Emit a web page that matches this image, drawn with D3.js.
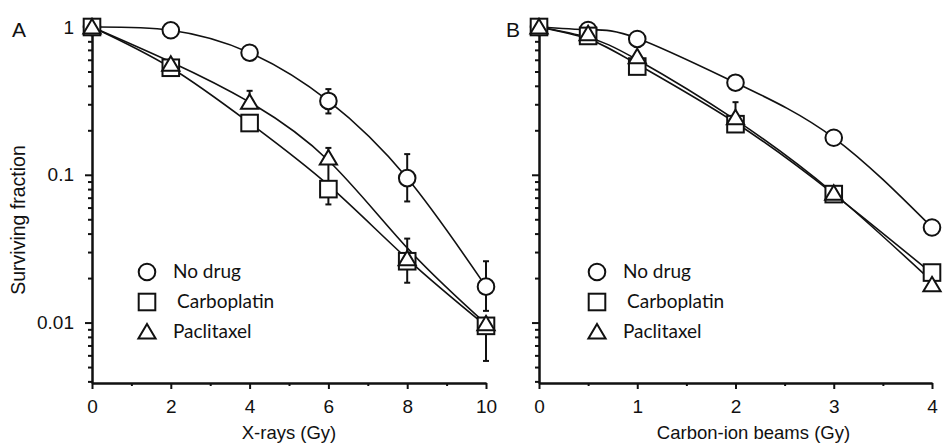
<!DOCTYPE html>
<html>
<head>
<meta charset="utf-8">
<script src="https://cdn.jsdelivr.net/npm/d3@7"></script>
<style>
  body { margin: 0; background: #fff; }
  svg text { font-family: "Liberation Sans", Arial, sans-serif; fill: #111; }
  .legend text { font-family: Lato, "Open Sans", sans-serif; }
</style>
</head>
<body>
<div id="chart"></div>
<script>
// doses
var xrayDose = [0, 2, 4, 6, 8, 10];
var carbonDose = [0, 0.5, 1, 2, 3, 4];

// panel A, X-rays: measured surviving fraction
var xrayNoDrug = [1, 0.95, 0.67, 0.316, 0.095, 0.0175];
var xrayCarbo = [1, 0.53, 0.224, 0.080, 0.026, 0.0095];
var xrayPacli = [1, 0.56, 0.31, 0.13, 0.027, 0.0098];
// error bar ends (null = hidden in marker)
var xrayNoDrugHi = [null, null, null, 0.38, 0.138, 0.026];
var xrayNoDrugLo = [null, null, null, 0.26, 0.066, 0.012];
var xrayCarboHi = [null, null, null, null, null, null];
var xrayCarboLo = [null, null, 0.20, 0.063, 0.0186, 0.0055];
var xrayPacliHi = [null, null, 0.37, 0.152, 0.037, null];
var xrayPacliLo = [null, null, null, 0.09, null, null];
// fitted curve at each dose
var xrayNoDrugFit = [1, 0.95, 0.67, 0.316, 0.095, 0.0175];
var xrayCarboFit = [1, 0.53, 0.224, 0.085, 0.027, 0.0095];
var xrayPacliFit = [1, 0.58, 0.31, 0.125, 0.032, 0.0098];

// panel B, carbon-ion beams
var carbonNoDrug = [1, 0.955, 0.83, 0.42, 0.178, 0.044];
var carbonCarbo = [1, 0.87, 0.54, 0.22, 0.074, 0.0218];
var carbonPacli = [1, 0.9, 0.63, 0.243, 0.075, 0.018];
var carbonPacliHi = [null, null, null, 0.31, null, null];
var carbonNoDrugFit = [1, 0.96, 0.84, 0.42, 0.178, 0.044];
var carbonCarboFit = [1, 0.83, 0.56, 0.225, 0.074, 0.0215];
var carbonPacliFit = [1, 0.85, 0.60, 0.235, 0.075, 0.019];

var legendLabels = ["No drug", "Carboplatin", "Paclitaxel"];
var yMajor = [1, 0.1, 0.01];
var yTickLabels = ["1", "0.1", "0.01"];

function program() {
    var width = 943, height = 445;

    var svg = d3.select("#chart")
        .append("svg")
        .attr("width", width)
        .attr("height", height);

    var y = d3.scaleLog().domain([0.0039, 1]).range([383, 27]);

    var yMinor = [];
    [0.001, 0.01, 0.1].forEach(function(dec) {
        for (var k = 2; k <= 9; k++) {
            var v = k * dec;
            if (v >= 0.0039 && v < 1) yMinor.push(v);
        }
    });

    function makeSeries(dose, vals, hi, lo) {
        return dose.map(function(d, i) {
            return { dose: d, sf: vals[i], hi: hi ? hi[i] : null, lo: lo ? lo[i] : null };
        });
    }

    var panels = [
        {
            x: d3.scaleLinear().domain([0, 10]).range([92, 486]),
            major: [0, 2, 4, 6, 8, 10],
            minor: [1, 3, 5, 7, 9],
            title: "X-rays (Gy)", titleShift: 0,
            letter: "A", letterX: 12,
            yLabels: true,
            legendX: 147,
            series: [
                makeSeries(xrayDose, xrayNoDrug, xrayNoDrugHi, xrayNoDrugLo),
                makeSeries(xrayDose, xrayCarbo, xrayCarboHi, xrayCarboLo),
                makeSeries(xrayDose, xrayPacli, xrayPacliHi, xrayPacliLo)
            ],
            fits: [
                makeSeries(xrayDose, xrayNoDrugFit),
                makeSeries(xrayDose, xrayCarboFit),
                makeSeries(xrayDose, xrayPacliFit)
            ]
        },
        {
            x: d3.scaleLinear().domain([0, 4]).range([539, 932]),
            major: [0, 1, 2, 3, 4],
            minor: [0.5, 1.5, 2.5, 3.5],
            title: "Carbon-ion beams (Gy)", titleShift: 18,
            letter: "B", letterX: 506,
            yLabels: false,
            legendX: 597,
            series: [
                makeSeries(carbonDose, carbonNoDrug),
                makeSeries(carbonDose, carbonCarbo),
                makeSeries(carbonDose, carbonPacli, carbonPacliHi, null)
            ],
            fits: [
                makeSeries(carbonDose, carbonNoDrugFit),
                makeSeries(carbonDose, carbonCarboFit),
                makeSeries(carbonDose, carbonPacliFit)
            ]
        }
    ];

    var shapes = ["circle", "square", "triangle"];

    function drawMarker(g, shape, cx, cy) {
        if (shape === "circle") {
            g.append("circle").attr("cx", cx).attr("cy", cy).attr("r", 8.3);
        } else if (shape === "square") {
            g.append("rect").attr("x", cx - 8.3).attr("y", cy - 8.3)
                .attr("width", 16.6).attr("height", 16.6);
        } else {
            g.append("path")
                .attr("d", "M" + cx + "," + (cy - 8) + "L" + (cx + 8.6) + "," + (cy + 6.5) +
                    "L" + (cx - 8.6) + "," + (cy + 6.5) + "Z");
        }
    }

    panels.forEach(function(p) {
        var x = p.x;
        var g = svg.append("g");

        // y axis
        g.append("g")
            .attr("transform", "translate(" + x.range()[0] + ",0)")
            .call(d3.axisLeft(y).tickValues(yMinor).tickSize(4).tickSizeOuter(0).tickFormat(""));
        g.append("g")
            .attr("transform", "translate(" + x.range()[0] + ",0)")
            .call(d3.axisLeft(y).tickValues(yMajor).tickSize(7).tickSizeOuter(0).tickPadding(11)
                .tickFormat(function(d, i) { return p.yLabels ? yTickLabels[i] : ""; }));

        // x axis
        g.append("g")
            .attr("transform", "translate(0," + y.range()[0] + ")")
            .call(d3.axisBottom(x).tickValues(p.minor).tickSize(3).tickSizeOuter(0).tickFormat(""));
        g.append("g")
            .attr("transform", "translate(0," + y.range()[0] + ")")
            .call(d3.axisBottom(x).tickValues(p.major).tickSize(6).tickSizeOuter(0).tickPadding(11)
                .tickFormat(d3.format("d")));

        g.selectAll(".domain, .tick line")
            .attr("stroke", "#111")
            .attr("stroke-width", 2);
        g.selectAll(".tick text")
            .attr("font-size", 19)
            .attr("font-family", "Liberation Sans, Arial, sans-serif")
            .attr("fill", "#111");

        // axis title
        g.append("text")
            .attr("x", d3.mean(x.range()) + p.titleShift)
            .attr("y", 439)
            .attr("text-anchor", "middle")
            .attr("font-size", 18.5)
            .text(p.title);

        // panel letter
        g.append("text")
            .attr("x", p.letterX)
            .attr("y", 37)
            .attr("font-size", 21)
            .text(p.letter);

        // fitted curves
        var line = d3.line()
            .x(function(d) { return x(d.dose); })
            .y(function(d) { return y(d.sf); })
            .curve(d3.curveNatural);

        g.append("g").selectAll("path")
            .data(p.fits)
            .join("path")
            .attr("d", line)
            .attr("fill", "none")
            .attr("stroke", "#111")
            .attr("stroke-width", 1.6);

        // error bars
        var eb = g.append("g").attr("stroke", "#111").attr("stroke-width", 2);
        p.series.forEach(function(s) {
            s.forEach(function(d) {
                ["hi", "lo"].forEach(function(k) {
                    if (d[k] == null) return;
                    var cx = x(d.dose);
                    eb.append("line")
                        .attr("x1", cx).attr("x2", cx)
                        .attr("y1", y(d.sf)).attr("y2", y(d[k]));
                    eb.append("line")
                        .attr("x1", cx - 3).attr("x2", cx + 3)
                        .attr("y1", y(d[k])).attr("y2", y(d[k]));
                });
            });
        });

        // markers
        var mk = g.append("g")
            .attr("fill", "#fff")
            .attr("stroke", "#111")
            .attr("stroke-width", 2);
        p.series.forEach(function(s, si) {
            s.forEach(function(d) {
                drawMarker(mk, shapes[si], x(d.dose), y(d.sf));
            });
        });

        // legend
        var lg = g.append("g").attr("class", "legend");
        var lm = lg.append("g").attr("fill", "#fff").attr("stroke", "#111").attr("stroke-width", 2);
        legendLabels.forEach(function(lbl, i) {
            var cy = 272 + i * 30;
            drawMarker(lm, shapes[i], p.legendX, cy);
            lg.append("text")
                .attr("x", p.legendX + (i === 1 ? 30 : 26))
                .attr("y", cy + 6)
                .attr("font-size", 19)
                .text(lbl);
        });
    });

    // y axis label
    svg.append("text")
        .attr("transform", "translate(25,220) rotate(-90)")
        .attr("text-anchor", "middle")
        .attr("font-size", 19.5)
        .text("Surviving fraction");
}

program();
</script>
</body>
</html>
